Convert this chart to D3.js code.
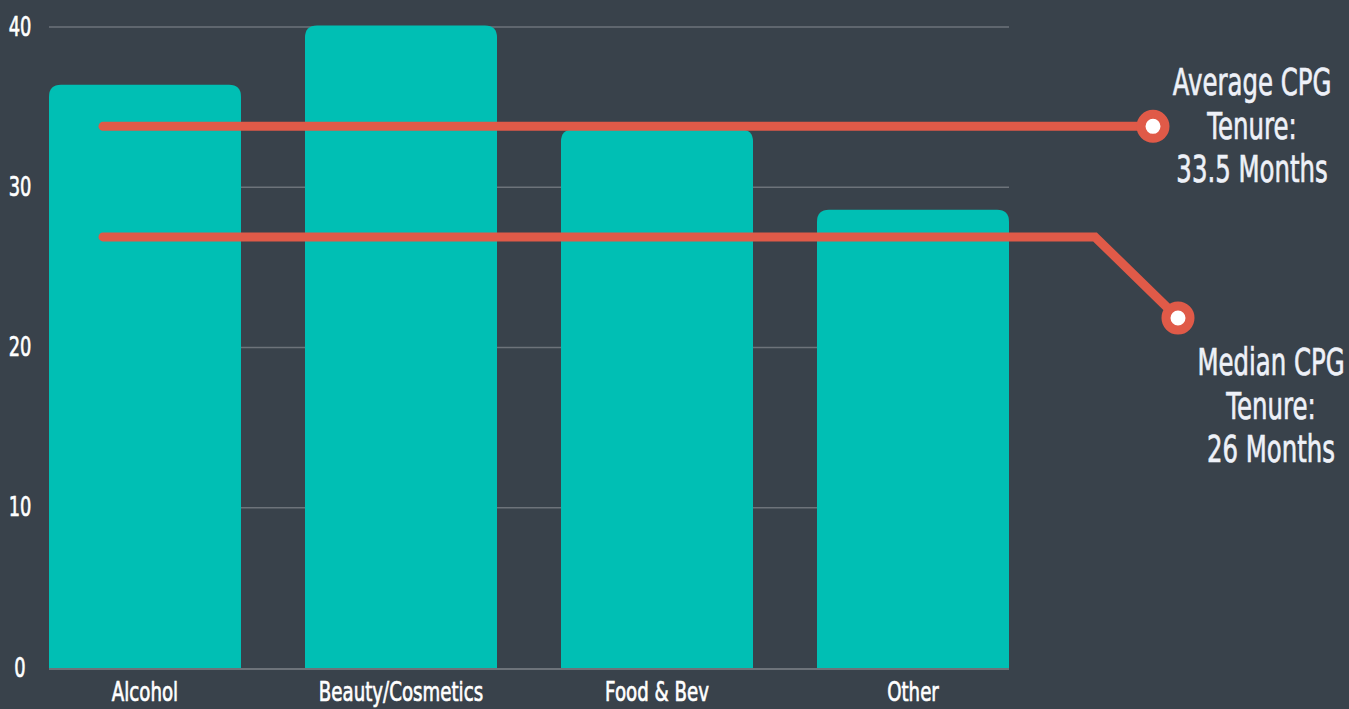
<!DOCTYPE html>
<html><head><meta charset="utf-8">
<script src="https://cdn.jsdelivr.net/npm/d3@7"></script>
<style>
html,body{margin:0;padding:0;background:#39424b;}
svg{display:block;}
text{font-family:"DejaVu Sans",sans-serif;fill:#fff;stroke:#fff;stroke-width:0.7px;}
</style></head>
<body><svg id="c" width="1349" height="709"></svg>
<script>
const categories = ["Alcohol","Beauty/Cosmetics","Food & Bev","Other"];
const values = [36.4, 40.1, 33.6, 28.6];
const yTicks = [0,10,20,30,40];
const avgValue = 33.8;
const medianValue = 26.9;
const avgLabel = ["Average CPG","Tenure:","33.5 Months"];
const medianLabel = ["Median CPG","Tenure:","26 Months"];

(function(){
const svg = d3.select("#c");
const mLeft = 49, mRight = 1009, mTop = 27, mBottom = 668;
const x = d3.scaleBand().domain(categories).range([mLeft,mRight]).paddingInner(0.25).paddingOuter(0);
const y = d3.scaleLinear().domain([0,40]).range([mBottom,mTop]);

function placeText(sel, fx, fy, sx){
  sel.attr("transform",(d,i)=>`translate(${fx(d,i)},${fy(d,i)}) scale(${sx},1)`)
     .attr("x",0).attr("y",0).attr("dy","0.36em").attr("text-anchor","middle");
}

svg.append("g").selectAll("line").data(yTicks.filter(d=>d>0)).join("line")
  .attr("x1",mLeft).attr("x2",mRight).attr("y1",d=>y(d)).attr("y2",d=>y(d))
  .attr("stroke","#6d737a").attr("stroke-width",1.5);

svg.append("g").selectAll("text").data(yTicks).join("text")
  .attr("font-size",27).text(d=>d)
  .call(placeText, d=>20, d=>y(d)-1, 0.66);

const r = 12;
function barPath(x0,w,yt,yb){
  return `M${x0},${yb}V${yt+r}Q${x0},${yt} ${x0+r},${yt}H${x0+w-r}Q${x0+w},${yt} ${x0+w},${yt+r}V${yb}Z`;
}
svg.append("g").selectAll("path").data(categories).join("path")
  .attr("d",(d,i)=>barPath(x(d),x.bandwidth(),y(values[i]),y(0)))
  .attr("fill","#00bfb4");

svg.append("line").attr("x1",mLeft).attr("x2",mRight).attr("y1",y(0)+1).attr("y2",y(0)+1)
  .attr("stroke","#6d737a").attr("stroke-width",2);

svg.append("g").selectAll("text").data(categories).join("text")
  .attr("font-size",26).text(d=>d)
  .call(placeText, d=>x(d)+x.bandwidth()/2, d=>692, 0.7);

const red = "#e05a48";
const ya = y(avgValue);
svg.append("line").attr("x1",103).attr("x2",1153).attr("y1",ya).attr("y2",ya)
  .attr("stroke",red).attr("stroke-width",9).attr("stroke-linecap","round");
svg.append("circle").attr("cx",1153).attr("cy",ya).attr("r",12).attr("fill","#fff").attr("stroke",red).attr("stroke-width",9);

const ym = y(medianValue);
svg.append("path").attr("d",`M103,${ym}H1095L1178,318`).attr("fill","none")
  .attr("stroke",red).attr("stroke-width",9).attr("stroke-linecap","round");
svg.append("circle").attr("cx",1178).attr("cy",318).attr("r",12).attr("fill","#fff").attr("stroke",red).attr("stroke-width",9);

svg.append("g").selectAll("text").data(avgLabel).join("text")
  .attr("font-size",37).style("fill","#eef1f8").style("stroke","#eef1f8").text(d=>d)
  .call(placeText, d=>1252, (d,i)=>82+i*43.5, 0.66);
svg.append("g").selectAll("text").data(medianLabel).join("text")
  .attr("font-size",37).style("fill","#eef1f8").style("stroke","#eef1f8").text(d=>d)
  .call(placeText, d=>1271, (d,i)=>362+i*43.5, 0.66);
})();
</script></body></html>
